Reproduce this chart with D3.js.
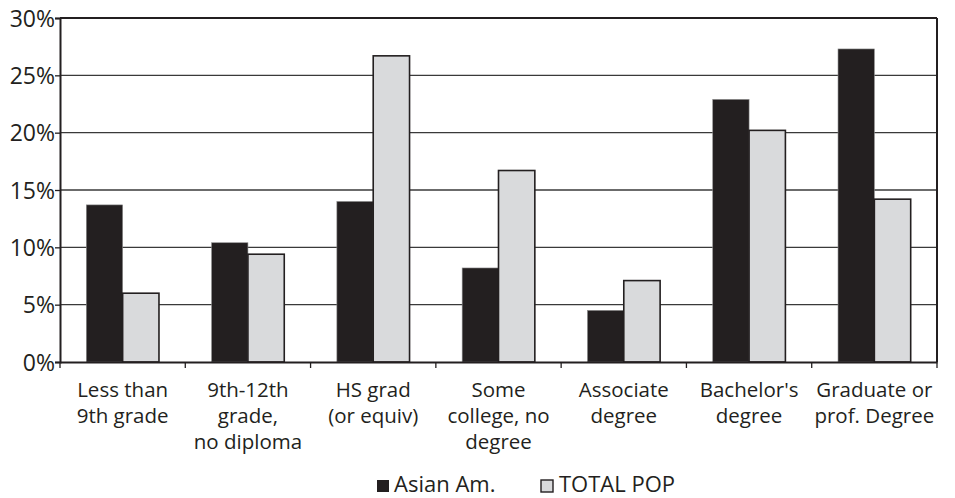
<!DOCTYPE html>
<html>
<head>
<meta charset="utf-8">
<script src="https://cdn.jsdelivr.net/npm/d3@7"></script>
<style>
  body { margin: 0; background: #fff; }
  text { font-family: "Open Sans", sans-serif; fill: #231f20; }
</style>
</head>
<body>
<div id="container"></div>
<script>
// categories, series and values
const categories = [
  ["Less than", "9th grade"],
  ["9th-12th", "grade,", "no diploma"],
  ["HS grad", "(or equiv)"],
  ["Some", "college, no", "degree"],
  ["Associate", "degree"],
  ["Bachelor's", "degree"],
  ["Graduate or", "prof. Degree"]
];
const seriesNames = ["Asian Am.", "TOTAL POP"];
const asianAm = [13.7, 10.4, 14.0, 8.2, 4.5, 22.9, 27.3];
const totalPop = [6.0, 9.4, 26.7, 16.7, 7.1, 20.2, 14.2];
const yTicks = [0, 5, 10, 15, 20, 25, 30];

const w = 955;
const h = 498;
const margin = { top: 18, right: 18, bottom: 136, left: 60 };
const dark = "#231f20";
const light = "#d9dadc";
const colors = [dark, light];

const svg = d3.select("#container").
append("svg").
attr("width", w).
attr("height", h);

const idx = categories.map((c, i) => i);

const xScale = d3.scaleBand().
domain(idx).
range([margin.left, w - margin.right]);

const subScale = d3.scaleBand().
domain([0, 1]).
range([xScale.bandwidth() * 0.21, xScale.bandwidth() * 0.79]);

const yScale = d3.scaleLinear().
domain([0, 30]).
range([h - margin.bottom, margin.top]);

// gridlines
svg.append("g").
selectAll("line").
data(yTicks.slice(1)).
enter().
append("line").
attr("x1", margin.left).
attr("x2", w - margin.right).
attr("y1", d => yScale(d)).
attr("y2", d => yScale(d)).
attr("stroke", d => d === 30 ? dark : "#3a3a3a").
attr("stroke-width", d => d === 30 ? 2 : 1.3);

// right frame
svg.append("line").
attr("x1", w - margin.right).
attr("x2", w - margin.right).
attr("y1", yScale(30)).
attr("y2", yScale(0)).
attr("stroke", dark).
attr("stroke-width", 2);

// bars
const groups = svg.append("g").
selectAll("g").
data(idx).
enter().
append("g").
attr("transform", i => `translate(${xScale(i)},0)`);

groups.selectAll("rect").
data(i => [asianAm[i], totalPop[i]]).
enter().
append("rect").
attr("x", (d, j) => subScale(j)).
attr("y", d => yScale(d)).
attr("width", subScale.bandwidth()).
attr("height", d => yScale(0) - yScale(d)).
attr("fill", (d, j) => colors[j]).
attr("stroke", (d, j) => j === 0 ? "#8a8a8a" : dark).
attr("stroke-width", (d, j) => j === 0 ? 0.6 : 1.6);

// y axis
const yAxis = d3.axisLeft(yScale).
tickValues(yTicks).
tickSize(5).
tickFormat(d => d + "%");

const yG = svg.append("g").
attr("transform", `translate(${margin.left},0)`).
call(yAxis);
yG.select(".domain").attr("stroke", dark).attr("stroke-width", 2);
yG.selectAll(".tick line").attr("stroke", dark).attr("stroke-width", 1.3);
yG.selectAll(".tick text").
attr("x", -5).
attr("dy", "0.35em").
style("font-size", "23px").
style("font-family", "'Open Sans', sans-serif").
attr("fill", dark);

// x axis
const xAxis = d3.axisBottom(xScale).
tickSize(0).
tickFormat("");

const xG = svg.append("g").
attr("transform", `translate(0,${h - margin.bottom})`).
call(xAxis);
xG.select(".domain").attr("stroke", dark).attr("stroke-width", 2);

// tick marks at band edges
xG.selectAll(".edge").
data(idx.concat([categories.length])).
enter().
append("line").
attr("class", "edge").
attr("x1", i => margin.left + i * xScale.step()).
attr("x2", i => margin.left + i * xScale.step()).
attr("y1", 0).
attr("y2", 6).
attr("stroke", dark).
attr("stroke-width", 1.3);

// category labels
const labels = svg.append("g").
selectAll("text").
data(idx).
enter().
append("text").
attr("text-anchor", "middle").
attr("x", i => xScale(i) + xScale.bandwidth() / 2).
attr("y", h - margin.bottom + 35).
style("font-size", "20.5px");

labels.selectAll("tspan").
data(i => categories[i]).
enter().
append("tspan").
attr("x", function () {
  return d3.select(this.parentNode).attr("x");
}).
attr("dy", (d, k) => k === 0 ? 0 : 26).
text(d => d);

// legend
const legendX = [377, 541];
const legend = svg.append("g").
selectAll("g").
data(seriesNames).
enter().
append("g").
attr("transform", (d, i) => `translate(${legendX[i]},${h - 6})`);

legend.append("rect").
attr("x", 0).
attr("y", -12).
attr("width", 12).
attr("height", 12).
attr("fill", (d, i) => colors[i]).
attr("stroke", dark).
attr("stroke-width", (d, i) => i === 0 ? 0 : 1.4);

legend.append("text").
attr("x", (d, i) => i === 0 ? 17 : 18).
attr("y", 0).
style("font-size", "22px").
text(d => d);
</script>
</body>
</html>
